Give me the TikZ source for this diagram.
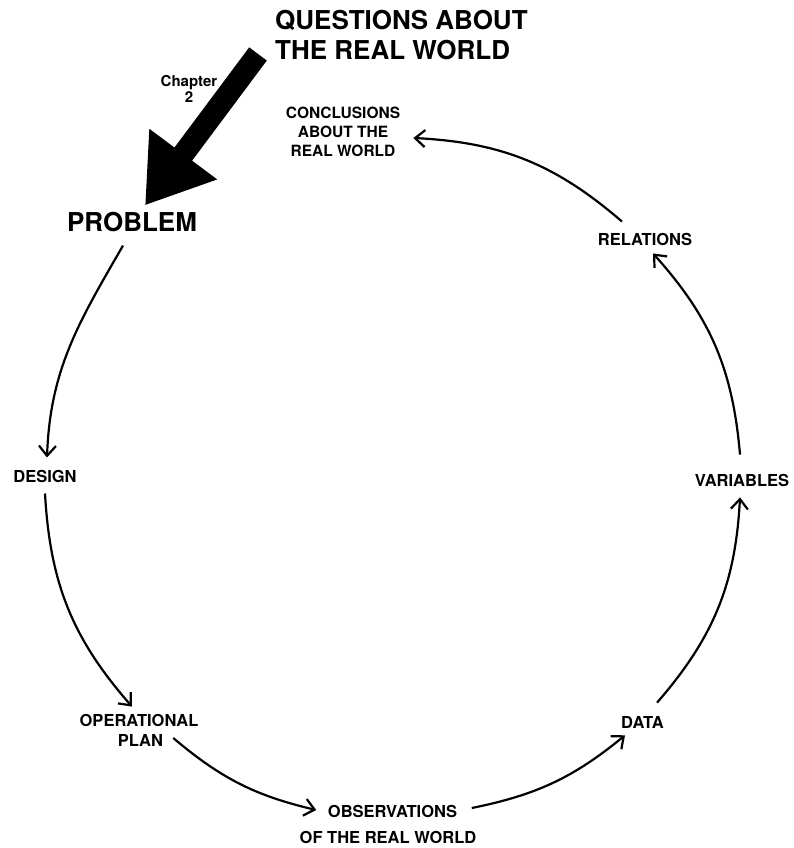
\documentclass[tikz,border=0pt]{standalone}
\usepackage{fontspec}
\setmainfont{TeX Gyre Heros}
\usetikzlibrary{arrows.meta,calc}
\begin{document}
\begin{tikzpicture}[x=1pt,y=1pt,
  lbl/.style={inner sep=0pt, font=\fontsize{16.5}{19}\selectfont\bfseries, align=center},
  big/.style={inner sep=0pt, font=\fontsize{26}{30}\selectfont\bfseries},
  flow/.style={line width=2.2pt, -{Straight Barb[length=10pt,width=17pt]}},
  bigarrow/.style={line width=22pt, -{Triangle[length=64pt,width=80pt]}}]
\useasboundingbox (0,0) rectangle (793,848);
% nodes
\node[big, anchor=north west, align=left] (q) at (275,838) {QUESTIONS ABOUT\\THE REAL WORLD};
\node[inner sep=0pt, anchor=north, align=center, font=\fontsize{15}{16.5}\selectfont\bfseries] (chap) at (189,773) {Chapter\\2};
\node[big] (problem) at (132,626) {PROBLEM};
\node[lbl, font=\fontsize{15.5}{19}\selectfont\bfseries] (conc) at (343,716) {CONCLUSIONS\\ABOUT THE\\REAL WORLD};
\node[lbl] (rel) at (645,609) {RELATIONS};
\node[lbl] (var) at (742,368) {VARIABLES};
\node[lbl] (design) at (45,371.5) {DESIGN};
\node[lbl] (op1) at (139,128) {OPERATIONAL};
\node[lbl] (op2) at (140.5,107.5) {PLAN};
\node[lbl] (obs1) at (392.5,36.5) {OBSERVATIONS};
\node[lbl] (obs2) at (388,10.5) {OF THE REAL WORLD};
\node[lbl] (data) at (642.5,125.5) {DATA};
% big arrow
\draw[bigarrow] ($(q.south west)+(-17,6)$) -- ($(problem.north)+(13,6.6)$);
% cycle
\draw[flow] ($(problem.south)+(-9,-13.6)$) to[out=240,in=88] ($(design.north)+(2,12.6)$);
\draw[flow] ($(design.south)+(0,-10.6)$) to[bend right=19] ($(op1.north)+(-7,7)$);
\draw[flow] ($(op2.east)+(10,2.5)$) to[bend right=13.5] ($(obs1.west)+(-11.5,1.5)$);
\draw[flow] ($(obs1.east)+(14.5,3.5)$) to[bend right=14] ($(data.south)+(-17.5,-6.6)$);
\draw[flow] ($(data.north)+(14.5,13.6)$) to[bend right=19] ($(var.south)+(-2,-11)$);
\draw[flow] ($(var.north)+(-2,19)$) to[bend right=18.5] ($(rel.south)+(8,-8)$);
\draw[flow] ($(rel.north)+(-23,11)$) to[bend right=19] ($(conc.east)+(13,-6)$);
\end{tikzpicture}
\end{document}
